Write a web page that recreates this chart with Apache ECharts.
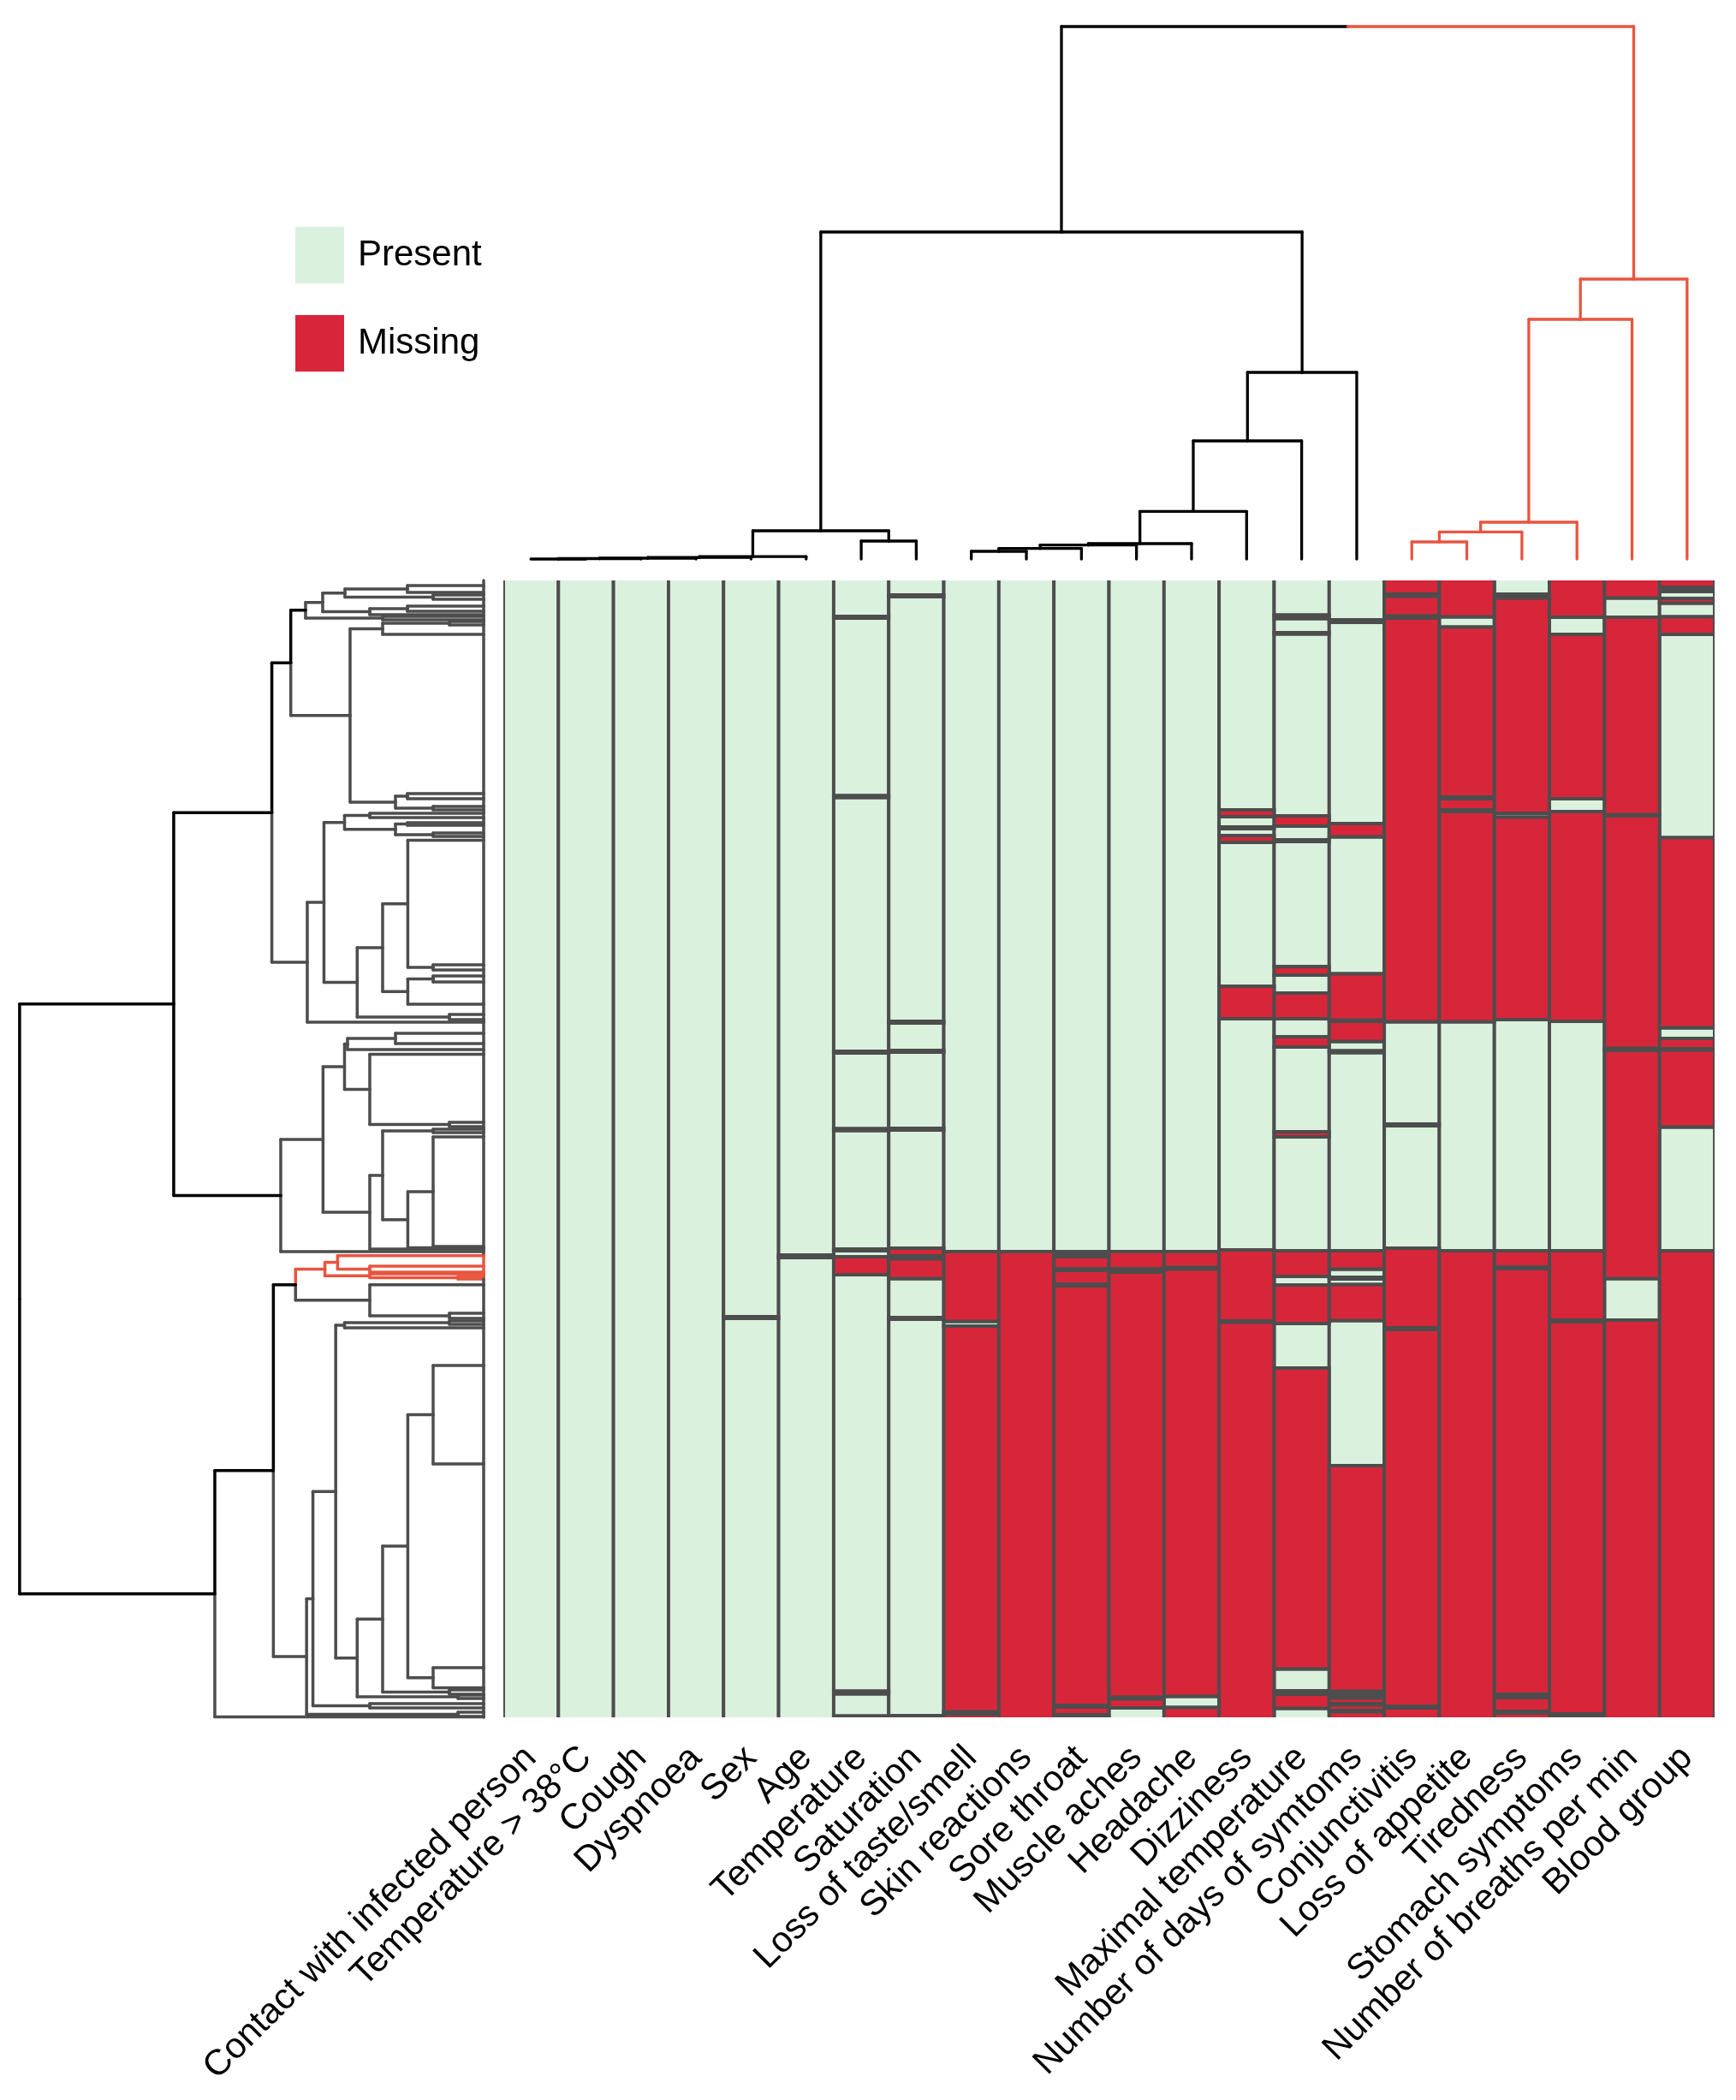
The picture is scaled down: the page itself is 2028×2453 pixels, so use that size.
<!DOCTYPE html>
<html><head><meta charset="utf-8">
<script src="https://cdn.jsdelivr.net/npm/echarts@6/dist/echarts.min.js"></script>
<style>html,body{margin:0;padding:0;background:#fff}#c{width:2028px;height:2453px}</style>
</head><body><div id="c"></div>
<script>
// ---------- DATA ----------
const variables = ['Contact with infected person','Temperature > 38°C','Cough','Dyspnoea','Sex','Age','Temperature','Saturation','Loss of taste/smell','Skin reactions','Sore throat','Muscle aches','Headache','Dizziness','Maximal temperature','Number of days of symtoms','Conjunctivitis','Loss of appetite','Tiredness','Stomach symptoms','Number of breaths per min','Blood group'];
const nRows = 1328; // row positions (ordered patients)

// Missing-value runs per variable, [fromRow, toRow]; everything else is "Present"
const missContact = [];
const missTemp38 = [];
const missCough = [];
const missDyspnoea = [];
const missSex = [[860,862]];
const missAge = [[788,791]];
const missTemperature = [[42,44],[251.5,253.5],[550,552],[640.5,642.5],[781,783],[790,811],[1297.5,1300.5],[1326.5,1328]];
const missSaturation = [[17,19],[515,517],[549,551],[640,642],[780,789],[792.5,815.5],[861,863],[1326,1328]];
const missTaste = [[784,865.5],[871,1321.5],[1324.5,1328]];
const missSkin = [[784,1328]];
const missSore = [[784,787],[790,804],[806,822],[824,1314],[1316,1325],[1327,1328]];
const missMuscle = [[784,804],[808,1304.5],[1306.5,1317]];
const missHeadache = [[784,802.5],[804.5,1303.5],[1316.5,1328]];
const missDizziness = [[268,276],[288,290],[298,306],[474,512],[782,865],[866.5,1328]];
const missMaxTemp = [[40.5,44.5],[61,62.5],[275,287],[303,305],[451,461],[482,512],[533,545],[644,650],[783,813],[823,868],[920,1271.5],[1297,1299],[1301,1317.5]];
const missDays = [[46,49],[284,299.5],[459.5,513.5],[515,538.5],[549.5,551.5],[783,804.5],[814,816],[822.5,864.5],[1034,1297.5],[1299.5,1301],[1302.5,1304],[1305.5,1312],[1313.5,1320],[1321.5,1328]];
const missConj = [[0,16],[18.5,41.5],[44,515.5],[635,637],[780,873],[875,1315],[1317,1328]];
const missAppetite = [[0,42.5],[54.5,253],[255,268],[270,515.5],[783,1328]];
const missTired = [[16,17.5],[20.5,272],[276.5,513],[783,802],[804,1301],[1305,1321],[1323,1328]];
const missStomach = [[0,43],[63,255],[270,515],[783,864],[866,1324],[1326.5,1328]];
const missBreaths = [[0,20.5],[43,273.5],[275,546.5],[549,815.5],[864,1328]];
const missBlood = [[0,8],[11,13],[21,26.5],[42.5,63],[300.5,522.5],[535,547],[548.5,638.5],[783,1328]];

const missingByVar = [missContact,missTemp38,missCough,missDyspnoea,missSex,missAge,missTemperature,missSaturation,missTaste,missSkin,missSore,missMuscle,missHeadache,missDizziness,missMaxTemp,missDays,missConj,missAppetite,missTired,missStomach,missBreaths,missBlood];

// Column dendrogram: [height, left, right, colour?]; leaves = column index
const colTree = [622,
  [382,
    [33, [2.8, [1.8, [1, [0.5, [0, 0, 1], 2], 3], 4], 5], [21, 6, 7]],
    [218, [138, [55.7, [18, [16.3, [12.3, [9, 8, 9], 10], 11], 12], 13], 14], 15]],
  [327, [280, [43, [31.6, [20, 16, 17], 18], 19], 20], 21, 'r']];

// Row dendrogram: [height, upper, lower, colour?]; leaves = row position
const rowTree = [542,
  [362,
    [247.4,
      [225.3,
        [208,
          [188, [162, [89, 6, 14], [59, 17, 22]], [133, [89, 30, 36], 40]],
          [118, 42, 46], 'k'],
        [156, [118, [40, 48, 52], 63], [103, [89, 249, 255], [59, 264, 268]]], 'k'],
      [206,
        [186.5,
          [162.5, [133, 272, 277], [103, [89, 283, 286], [59, 295, 299]]],
          [147.7, [118, [88.6, 303.6, [59, 449, 455]], [88.6, [59, 462, 469], 495]], [40, 507, 513]]],
        516], 'k'],
    [237,
      [187.6,
        [162.5, [159, [103, 529, 541], 548], [133, 553.4, [40, 633, 638]]],
        [133, [118, [59, 641, 645], [88.6, [59, 650, 778], 779.5]], 781]],
      784, 'k'], 'k'],
  [314,
    [245.6,
      [219.7,
        [185.4, [170.6, 788.7, [133, 801, 808]], [133, 810, [30, 813, 816]], 'r'],
        [133, 822.7, [40, 856, 862]], 'k'],
      [206.8,
        [199.4,
          [172.8,
            [162.5, [40, 865, 869], 873],
            [147.7, [118, [88.6, [59, 916.9, 1032], [59, 1270, 1293.5]], [40, 1296, 1301]], [30, 1302, 1306]]],
          [133, 1312, 1317]],
        [30, 1322, 1327]], 'k'],
    1327.5, 'k']];

// ---------- BUILD ----------
const GREEN = '#daf1de', RED = '#d7263a', GRID = '#4d4d4d';
const palette = {k: '#000000', g: '#4d4d4d', r: '#e8553f'};
const palKeys = ['k','g','r'];

const presentData = [], missingData = [];
missingByVar.forEach((runs, c) => {
  let pos = 0;
  runs.forEach(([a, b]) => {
    if (a > pos) presentData.push([c, pos, a]);
    missingData.push([c, a, b]);
    pos = b;
  });
  if (pos < nRows) presentData.push([c, pos, nRows]);
});

function layoutTree(node, inherited, blackChild, leafPos, segs, leaves) {
  if (typeof node === 'number') {
    const p = leafPos(node);
    leaves.push([p, inherited]);
    return {p: p, h: 0, c: inherited};
  }
  const c = node[3] || inherited;
  const def = c === 'k' ? blackChild : c;
  const a = layoutTree(node[1], def, blackChild, leafPos, segs, leaves);
  const b = layoutTree(node[2], def, blackChild, leafPos, segs, leaves);
  const h = node[0], p = (a.p + b.p) / 2;
  segs.push([a.p, h, p, h, a.c], [p, h, b.p, h, b.c], [a.p, h, a.p, a.h, a.c], [b.p, h, b.p, b.h, b.c]);
  return {p: p, h: h, c: c};
}

// column dendrogram segments (x = column position, y = height)
const colSegsRaw = [], colLeaves = [];
layoutTree(colTree, 'k', 'k', i => i + 0.5, colSegsRaw, colLeaves);
const colSegs = colSegsRaw.map(s => [s[0], s[1], s[2], s[3], palKeys.indexOf(s[4])]);

// row dendrogram segments (x = height, y = row position)
const rowSegsRaw = [], rowLeaves = [];
layoutTree(rowTree, 'k', 'g', r => r, rowSegsRaw, rowLeaves);
const rowSegs = rowSegsRaw.map(s => [s[1], s[0], s[3], s[2], palKeys.indexOf(s[4])]);
// zero-height joins along the leaf edge
rowLeaves.sort((a, b) => a[0] - b[0]);
rowSegs.push([0, 0, 0, rowLeaves[0][0], 1]);
for (let i = 1; i < rowLeaves.length; i++) {
  const c = (rowLeaves[i][1] === 'r' && rowLeaves[i - 1][1] === 'r') ? 2 : 1;
  rowSegs.push([0, rowLeaves[i - 1][0], 0, rowLeaves[i][0], c]);
}
rowSegs.push([0, rowLeaves[rowLeaves.length - 1][0], 0, nRows, 1]);

function cellRenderer(fill) {
  return function (params, api) {
    const c = api.value(0);
    let r0 = api.value(1), r1 = api.value(2);
    if (r0 <= 0) r0 = -8;
    if (r1 >= nRows) r1 = nRows + 8;
    const p0 = api.coord([c, r0]), p1 = api.coord([c, r1]);
    const w = api.size([1, 0])[0];
    return {type: 'rect', shape: {x: p0[0] - w / 2, y: p0[1], width: w, height: p1[1] - p0[1]},
      style: {fill: fill, stroke: GRID, lineWidth: 3.9}};
  };
}
function segRenderer(lw) {
  return function (params, api) {
    const a = api.coord([api.value(0), api.value(1)]);
    const b = api.coord([api.value(2), api.value(3)]);
    return {type: 'line', shape: {x1: a[0], y1: a[1], x2: b[0], y2: b[1]},
      style: {stroke: palette[palKeys[api.value(4)]], lineWidth: lw, lineCap: 'round'}};
  };
}

const FONT = "'Liberation Sans', Arial, Helvetica, sans-serif";
const chart = echarts.init(document.getElementById('c'), null, {renderer: 'canvas'});
chart.setOption({
  animation: false,
  backgroundColor: '#ffffff',
  textStyle: {fontFamily: FONT},
  legend: {
    data: ['Present', 'Missing'], orient: 'vertical', left: 345, top: 265, padding: 0,
    icon: 'rect', itemWidth: 57, itemHeight: 66, itemGap: 37, selectedMode: false,
    textStyle: {fontSize: 42, color: '#000', fontFamily: FONT, padding: [6, 0, 0, 11]}
  },
  grid: [
    {left: 588, top: 678, width: 1415, height: nRows},
    {left: 588, top: 31, width: 1415, height: 622},
    {left: 22.9, top: 678, width: 542.1, height: nRows}
  ],
  xAxis: [
    {gridIndex: 0, type: 'category', data: variables, axisLine: {show: false}, axisTick: {show: false},
      splitLine: {show: false},
      axisLabel: {rotate: 45, interval: 0, margin: 41, fontSize: 42, color: '#000', fontFamily: FONT}},
    {gridIndex: 1, type: 'value', min: 0, max: 22, show: false},
    {gridIndex: 2, type: 'value', min: 0, max: 542, inverse: true, show: false}
  ],
  yAxis: [
    {gridIndex: 0, type: 'value', min: 0, max: nRows, inverse: true, show: false},
    {gridIndex: 1, type: 'value', min: 0, max: 622, show: false},
    {gridIndex: 2, type: 'value', min: 0, max: nRows, inverse: true, show: false}
  ],
  series: [
    {name: 'Present', type: 'custom', xAxisIndex: 0, yAxisIndex: 0, clip: true, silent: true,
      itemStyle: {color: GREEN}, data: presentData, renderItem: cellRenderer(GREEN)},
    {name: 'Missing', type: 'custom', xAxisIndex: 0, yAxisIndex: 0, clip: true, silent: true,
      itemStyle: {color: RED}, data: missingData, renderItem: cellRenderer(RED)},
    {type: 'custom', xAxisIndex: 1, yAxisIndex: 1, silent: true, data: colSegs, renderItem: segRenderer(3.3)},
    {type: 'custom', xAxisIndex: 2, yAxisIndex: 2, silent: true, data: rowSegs, renderItem: segRenderer(3.5)}
  ]
});
</script></body></html>
